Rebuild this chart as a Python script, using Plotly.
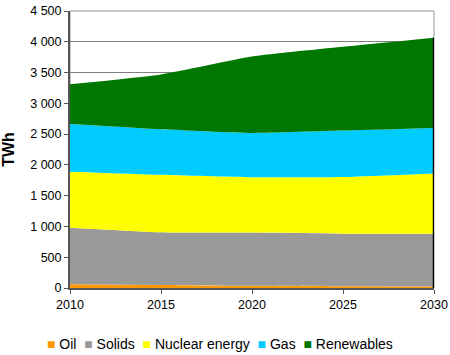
import plotly.graph_objects as go

years = [2010, 2015, 2020, 2025, 2030]
oil = [60, 50, 35, 28, 25]
solids = [920, 855, 865, 855, 855]
nuclear = [910, 935, 900, 920, 980]
gas = [775, 740, 720, 755, 740]
renewables = [645, 890, 1240, 1360, 1465]

series = [
    ("Oil", oil, "#FF9900"),
    ("Solids", solids, "#999999"),
    ("Nuclear energy", nuclear, "#FFFF00"),
    ("Gas", gas, "#00CCFF"),
    ("Renewables", renewables, "#007800"),
]

y_ticks = [0, 500, 1000, 1500, 2000, 2500, 3000, 3500, 4000, 4500]
y_ticktext = ["0", "500", "1 000", "1 500", "2 000", "2 500", "3 000", "3 500", "4 000", "4 500"]
x_ticks = [2010, 2015, 2020, 2025, 2030]

fig = go.Figure()
for name, vals, col in series:
    fig.add_trace(go.Scatter(
        x=years, y=vals, name=name, stackgroup="one",
        mode="lines", line=dict(width=0, color=col, shape="spline", smoothing=0.5),
        fillcolor=col, showlegend=False,
    ))

total = [sum(v) for v in zip(oil, solids, nuclear, gas, renewables)]
fig.add_trace(go.Scatter(
    x=[years[-1], years[-1]], y=[0, total[-1]], mode="lines",
    line=dict(color="black", width=2.5), showlegend=False, hoverinfo="skip",
))

legend_text = "  ".join(
    f"<span style='color:{col}'>■</span> {name}" for name, _, col in series
)
fig.add_annotation(
    text=legend_text, xref="paper", yref="paper", x=0.412, y=-0.202,
    xanchor="center", yanchor="middle", showarrow=False,
    font=dict(size=14, color="black"),
)

fig.update_layout(
    width=450, height=355,
    margin=dict(l=70, r=16, t=11, b=67),
    paper_bgcolor="white", plot_bgcolor="white",
    font=dict(family="Liberation Sans, Arial", size=12, color="black"),
    showlegend=False,
)
fig.update_xaxes(
    range=[2010, 2030], tickvals=x_ticks, showgrid=False,
    showline=True, linecolor="#555555", linewidth=2,
    ticks="outside", ticklen=4, tickcolor="#555555",
    mirror=False, zeroline=False, automargin=False,
    ticklabeloverflow="allow", tickfont=dict(size=12.5),
)
fig.update_yaxes(
    range=[0, 4500], tickvals=y_ticks, ticktext=y_ticktext,
    showgrid=True, gridcolor="#808080", gridwidth=1,
    showline=True, linecolor="#555555", linewidth=2,
    ticks="outside", ticklen=4, tickcolor="#555555",
    zeroline=False, automargin=False,
    ticklabeloverflow="allow", tickfont=dict(size=12.5),
    title=dict(text="<b>TWh</b>", font=dict(size=16), standoff=16),
)
fig.add_shape(type="rect", xref="paper", yref="paper", x0=0, x1=1, y0=0, y1=1,
              line=dict(color="#999999", width=1), layer="below")

fig.write_html(
    "out.html",
    config={"displayModeBar": False},
    post_script="document.body.style.margin='0';document.body.style.overflow='hidden';",
)
